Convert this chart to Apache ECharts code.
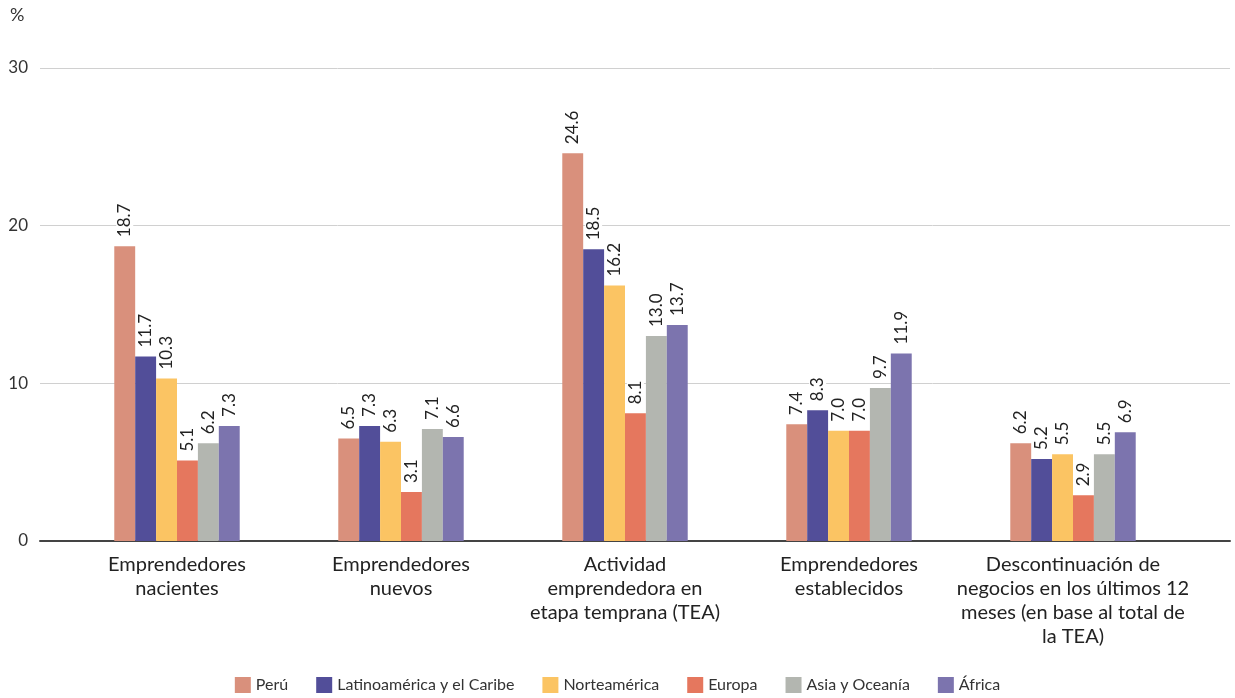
<!DOCTYPE html>
<html><head><meta charset="utf-8">
<script src="https://cdn.jsdelivr.net/npm/echarts@6/dist/echarts.min.js"></script>
<style>html,body{margin:0;padding:0;background:#fff}#c{width:1235px;height:698px}</style>
</head><body><div id="c"></div>
<script>
const categories = ["Emprendedores\nnacientes", "Emprendedores\nnuevos", "Actividad\nemprendedora en\netapa temprana (TEA)", "Emprendedores\nestablecidos", "Descontinuación de\nnegocios en los últimos 12\nmeses (en base al total de\nla TEA)"];
const seriesNames = ["Perú", "Latinoamérica y el Caribe", "Norteamérica", "Europa", "Asia y Oceanía", "África"];
const peru = [18.7, 6.5, 24.6, 7.4, 6.2];
const latam = [11.7, 7.3, 18.5, 8.3, 5.2];
const norte = [10.3, 6.3, 16.2, 7.0, 5.5];
const europa = [5.1, 3.1, 8.1, 7.0, 2.9];
const asia = [6.2, 7.1, 13.0, 9.7, 5.5];
const africa = [7.3, 6.6, 13.7, 11.9, 6.9];
const yTicks = [0, 10, 20, 30];
const colors = ["#D9907C", "#524E99", "#FBC463", "#E5775E", "#B3B6B0", "#7C74AE"];
const FONT = "Lato";
const values = [peru, latam, norte, europa, asia, africa];

const chart = echarts.init(document.getElementById('c'));
const TOP = 68, BOTTOM = 157;
chart.setOption({
  animation: false,
  textStyle: {fontFamily: FONT},
  color: colors,
  legend: {
    bottom: 0, left: 'center', itemWidth: 16, itemHeight: 16, itemGap: 28,
    icon: 'rect',
    textStyle: {fontFamily: FONT, fontSize: 16, color: '#333'},
    data: seriesNames
  },
  grid: [
    {left: 65, right: 50, top: TOP, bottom: BOTTOM},
    {left: 40, right: 5, top: TOP, bottom: BOTTOM}
  ],
  graphic: [{type: 'text', left: 10, top: 6, style: {text: '%', fontSize: 18, fontFamily: FONT, fill: '#333'}}],
  xAxis: [
    {type: 'category', gridIndex: 0, data: categories,
     axisLine: {show: false}, axisTick: {show: false},
     axisLabel: {fontSize: 20, color: '#222', lineHeight: 24, margin: 12, interval: 0, fontFamily: FONT}},
    {type: 'value', gridIndex: 1, min: 0, max: 1, show: true,
     axisLine: {show: true, onZero: false, lineStyle: {color: '#444', width: 2}},
     axisTick: {show: false}, axisLabel: {show: false}, splitLine: {show: false}}
  ],
  yAxis: [
    {type: 'value', gridIndex: 0, min: 0, max: 30, interval: 10, show: false},
    {type: 'value', gridIndex: 1, min: yTicks[0], max: yTicks[yTicks.length-1], interval: 10,
     axisLine: {show: false}, axisTick: {show: false},
     axisLabel: {fontSize: 17, color: '#333', margin: 12, fontFamily: FONT},
     splitLine: {lineStyle: {color: '#d0d0d0', width: 1}}}
  ],
  series: seriesNames.map((n, i) => ({
    name: n, type: 'bar', xAxisIndex: 0, yAxisIndex: 0,
    data: values[i], barGap: '0%', barCategoryGap: '44%', z: 3,
    label: {show: true, position: 'top', rotate: 90, align: 'left', verticalAlign: 'middle',
      distance: 7, fontSize: 17, color: '#222', fontFamily: FONT,
      formatter: p => p.value.toFixed(1), backgroundColor: '#fff', padding: [0, 2]}
  })).concat([{type: 'line', xAxisIndex: 1, yAxisIndex: 1, data: [], silent: true}])
});
</script></body></html>
